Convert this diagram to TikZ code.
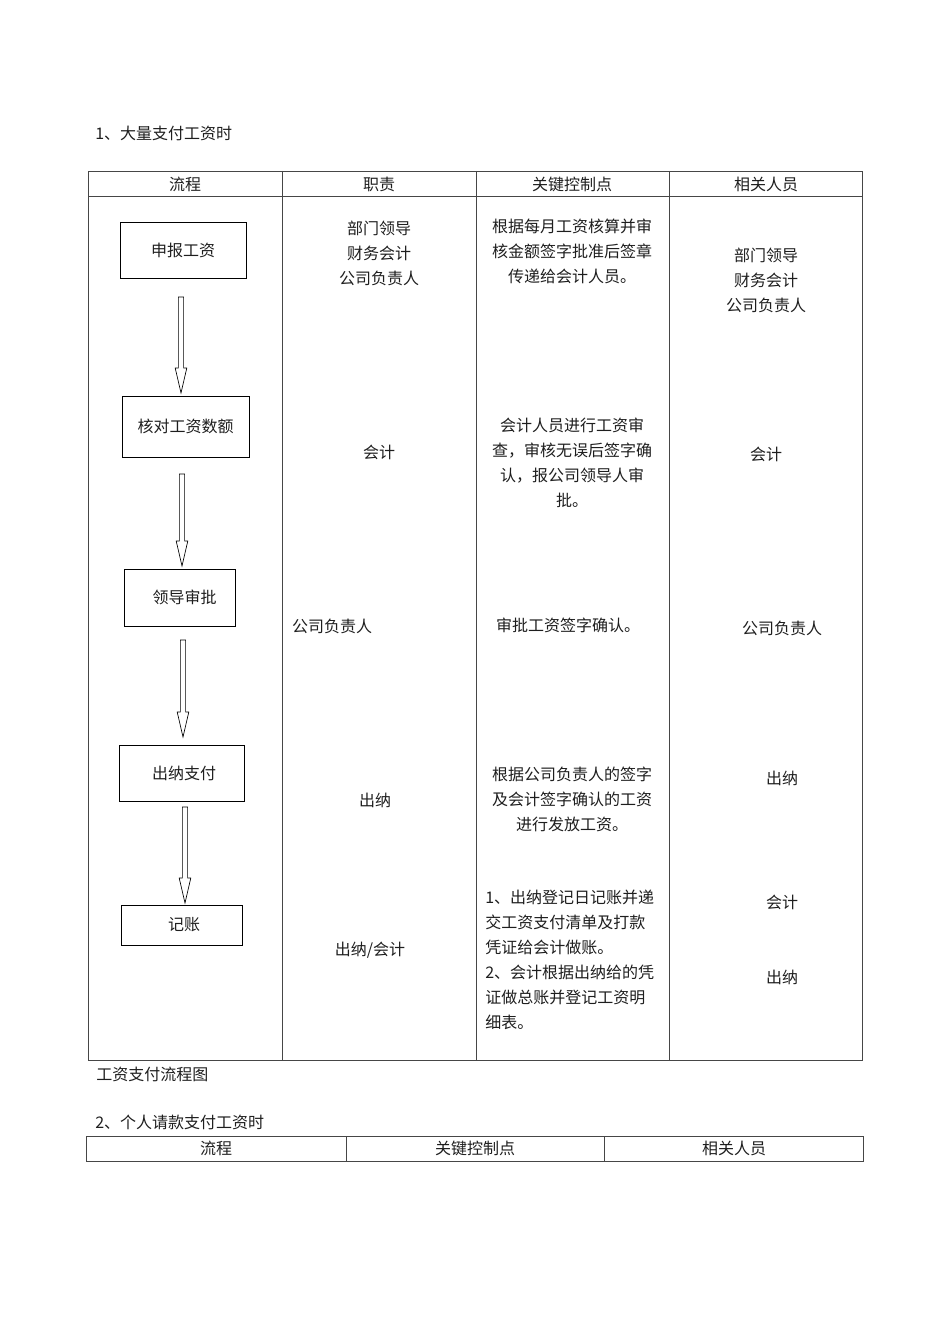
\documentclass[tikz,border=0pt]{standalone}
\usepackage{fontspec}
\newfontfamily\cjk{Noto Sans CJK SC}
\usetikzlibrary{positioning,calc}
\definecolor{tabline}{RGB}{70,70,70}
\definecolor{inkgray}{RGB}{30,30,30}

\begin{document}
\begin{tikzpicture}[
  x=0.75pt, y=-0.75pt,
  txt/.style={font=\cjk\fontsize{12}{18.75}\selectfont, text=inkgray, align=center, inner sep=0pt},
  stepbox/.style={rectangle, draw=black, line width=0.6pt, txt, minimum height=42pt},
  cell/.style={draw=tabline, line width=0.6pt},
  hollow/.style={draw=black, line width=0.5pt, fill=white,
    to path={($(\tikztostart)+(-2.6,0)$) -- ($(\tikztotarget)+(-2.6,-25)$) -- ($(\tikztotarget)+(-5.8,-25)$)
      -- (\tikztotarget) -- ($(\tikztotarget)+(5.8,-25)$) -- ($(\tikztotarget)+(2.6,-25)$)
      -- ($(\tikztostart)+(2.6,0)$) -- cycle}}
]
\useasboundingbox (0,0) rectangle (950,1344);

% Section 1 - title
\node[txt, anchor=west] (title1) at (95,133) {1、大量支付工资时};

% Table 1 - frame
\draw[cell] (88,171) rectangle (862,1060);
\draw[cell] (88,196) -- (862,196);
\foreach \cx in {282,476,669}
  \draw[cell] (\cx,171) -- (\cx,1060);

% Table 1 - header
\node[txt] (h1) at (185,184) {流程};
\node[txt] (h2) at (379,184) {职责};
\node[txt] (h3) at (572,184) {关键控制点};
\node[txt] (h4) at (766,184) {相关人员};

% Flow boxes
\node[stepbox, minimum width=94.5pt, text depth=-3pt] (apply) at (183,250) {申报工资};
\node[stepbox, minimum width=95.25pt, minimum height=45.75pt] (check) at (185.5,426.5) {核对工资数额};
\node[stepbox, minimum width=83.25pt, minimum height=42.75pt] (approve) at (180,597.5) {\hspace*{7pt}领导审批};
\node[stepbox, minimum width=93.75pt] (pay) at (181.5,773) {\hspace*{4pt}出纳支付};
\node[stepbox, minimum width=90.75pt, minimum height=30pt] (book) at (181.5,925) {\hspace*{4pt}记账};

% Arrow ends
\coordinate (a1top) at (181,297);
\coordinate (a1tip) at (181,393);
\coordinate (a2top) at (182,474);
\coordinate (a2tip) at (182,566);
\coordinate (a3top) at (183,640);
\coordinate (a3tip) at (183,737);
\coordinate (a4top) at (185,807);
\coordinate (a4tip) at (185,903);

% Arrows
\draw[hollow] (a1top) to (a1tip);
\draw[hollow] (a2top) to (a2tip);
\draw[hollow] (a3top) to (a3tip);
\draw[hollow] (a4top) to (a4tip);

% Duties
\node[txt] (d1) at (379,253) {部门领导\\财务会计\\公司负责人};
\node[txt] (d2) at (379,452) {会计};
\node[txt] (d3) at (332,626) {公司负责人};
\node[txt] (d4) at (375,800) {出纳};
\node[txt] (d5) at (370,950) {出纳/会计};

% Key control points
\node[txt] (k1) at (572,251) {根据每月工资核算并审\\核金额签字批准后签章\\传递给会计人员。};
\node[txt] (k2) at (572,462.5) {会计人员进行工资审\\查，审核无误后签字确\\认，报公司领导人审\\批。};
\node[txt] (k3) at (568,625) {审批工资签字确认。};
\node[txt] (k4) at (572,799) {根据公司负责人的签字\\及会计签字确认的工资\\进行发放工资。};
\node[txt, align=left, anchor=west] (k5) at (485,960) {1、出纳登记日记账并递\\交工资支付清单及打款\\凭证给会计做账。\\2、会计根据出纳给的凭\\证做总账并登记工资明\\细表。};

% Related staff
\node[txt] (r1) at (766,280) {部门领导\\财务会计\\公司负责人};
\node[txt] (r2) at (766,454) {会计};
\node[txt] (r3) at (782,628) {公司负责人};
\node[txt] (r4) at (782,778) {出纳};
\node[txt] (r5) at (782,902) {会计};
\node[txt] (r6) at (782,977) {出纳};

% Caption
\node[txt, anchor=west] (cap1) at (96,1074) {工资支付流程图};

% Section 2
\node[txt, anchor=west] (title2) at (95,1122) {2、个人请款支付工资时};
\draw[cell] (86,1136) rectangle (863,1161);
\foreach \cx in {346,604}
  \draw[cell] (\cx,1136) -- (\cx,1161);
\node[txt] (g1) at (216,1148) {流程};
\node[txt] (g2) at (475,1148) {关键控制点};
\node[txt] (g3) at (734,1148) {相关人员};

\end{tikzpicture}
\end{document}
